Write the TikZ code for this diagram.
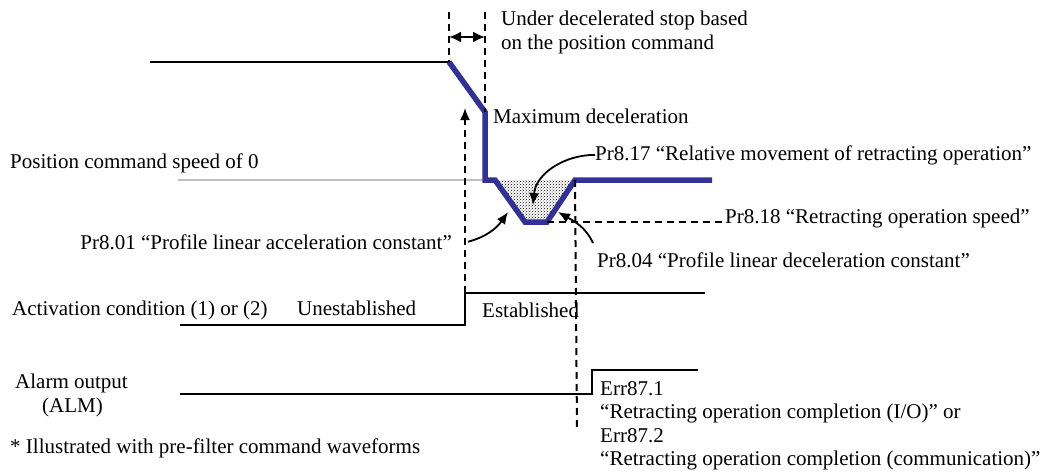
\documentclass[tikz,border=0pt]{standalone}
\usepackage{fontspec}
\setmainfont{Liberation Serif}
\usetikzlibrary{arrows.meta,patterns}
\definecolor{cmdblue}{RGB}{50,50,150}
\definecolor{zerogray}{RGB}{190,190,190}

\begin{document}
\begin{tikzpicture}[x=1pt, y=1pt,
  lbl/.style={inner sep=0pt, anchor=base west, font=\fontsize{21}{24}\selectfont},
  sig/.style={line width=2pt},
  cmd/.style={line width=5.5pt, draw=cmdblue, line join=miter},
  zero/.style={line width=1.6pt, draw=zerogray},
  guide/.style={line width=2pt, dash pattern=on 7pt off 5pt},
  flow/.style={-{Latex[length=12pt,width=10pt]}, line width=1.8pt}
]
\useasboundingbox (0,0) rectangle (1059,-474);

% command waveform corners
\coordinate (dec0) at (449,-62);
\coordinate (dec1) at (485,-112);
\coordinate (zero0) at (485,-180);
\coordinate (ret0) at (495,-180);
\coordinate (ret1) at (525,-222);
\coordinate (ret2) at (547,-222);
\coordinate (ret3) at (575,-180);
\coordinate (cmdend) at (712,-180);

% labels
\node[lbl] (stop1) at (501,-25) {Under decelerated stop based};
\node[lbl] (stop2) at (501,-49) {on the position command};
\node[lbl] (maxdec) at (493,-123) {Maximum deceleration};
\node[lbl] (zerospd) at (10,-168) {Position command speed of 0};
\node[lbl] (p817) at (595,-160) {Pr8.17 “Relative movement of retracting operation”};
\node[lbl] (p818) at (725,-223) {Pr8.18 “Retracting operation speed”};
\node[lbl, anchor=base east] (p801) at (452,-249) {Pr8.01 “Profile linear acceleration constant”};
\node[lbl] (p804) at (597,-267) {Pr8.04 “Profile linear deceleration constant”};
\node[lbl] (actcond) at (12,-315) {Activation condition (1) or (2)};
\node[lbl] (unest) at (297,-315) {Unestablished};
\node[lbl] (est) at (482,-317) {Established};
\node[lbl] (alarm) at (15,-388) {Alarm output};
\node[lbl] (alm) at (42,-412) {(ALM)};
\node[lbl] (note) at (10,-453) {* Illustrated with pre-filter command waveforms};
\node[lbl] (err1) at (600,-395) {Err87.1};
\node[lbl] (err1txt) at (600,-418.5) {“Retracting operation completion (I/O)” or};
\node[lbl] (err2) at (600,-442) {Err87.2};
\node[lbl] (err2txt) at (600,-465.5) {“Retracting operation completion (communication)”};

% waveforms
\draw[sig] (150,-62) -- (dec0);
\draw[zero] (178,-180) -- (zero0);
\fill[pattern=crosshatch dots] (ret0) -- (ret1) -- (ret2) -- (ret3) -- cycle;
\draw[cmd] (dec0) -- (dec1) -- (zero0) -- (ret0) -- (ret1) -- (ret2) -- (ret3) -- (cmdend);
\draw[sig] (180,-325) -- (465,-325) -- (465,-293) -- (705,-293);
\draw[sig] (180,-394) -- (592,-394) -- (592,-370) -- (698,-370);

% guides
\draw[guide] (449,-12) -- (dec0);
\draw[guide] (485,-12) -- (dec1);
\draw[{Latex[length=12pt,width=11pt]}-{Latex[length=12pt,width=11pt]}, line width=2pt] (449,-37) -- (485,-37);
\draw[guide, flow] (465,-293) -- (465,-108);
\draw[guide] (ret3) -- (577,-430);
\draw[guide, shorten >=3pt] (ret2) -- (ret2 -| p818.west);

% parameter arrows
\draw[flow] (p817.west) to[out=180, in=85] (533,-205);
\draw[flow] ([xshift=16pt]p801.east) to[out=15, in=235] (508,-212);
\draw[flow] ([xshift=-4pt, yshift=9pt]p804.north west) to[out=115, in=-30] (558,-212);
\end{tikzpicture}
\end{document}
